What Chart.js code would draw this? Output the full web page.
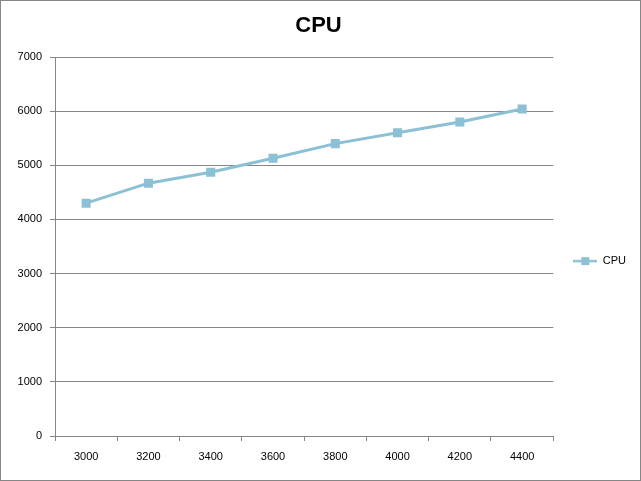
<!DOCTYPE html>
<html>
<head>
<meta charset="utf-8">
<script src="https://cdn.jsdelivr.net/npm/chart.js@4"></script>
<style>
    body { margin: 0; background: #fff; }
    #wrap { width: 639px; height: 479px; border: 1px solid #868686; position: relative; }
</style>
</head>
<body>
<div id="wrap"><canvas id="chart"></canvas></div>
<script>
const categories = ['3000', '3200', '3400', '3600', '3800', '4000', '4200', '4400'];
const cpuValues = [4300, 4670, 4870, 5130, 5400, 5600, 5800, 6040];
const seriesName = 'CPU';

const lineColor = '#8CC0D4';
const gridColor = '#868686';
const font = "'Liberation Sans', Arial, sans-serif";

// legend symbol: short line with a square in the middle
function legendSymbol() {
    const c = document.createElement('canvas');
    c.width = 24;
    c.height = 10;
    const g = c.getContext('2d');
    g.strokeStyle = lineColor;
    g.lineWidth = 2.5;
    g.beginPath();
    g.moveTo(0, 5);
    g.lineTo(24, 5);
    g.stroke();
    g.fillStyle = lineColor;
    g.fillRect(8, 1, 8, 8);
    return c;
}

const ctx = document.getElementById('chart').getContext('2d');
new Chart(ctx, {
    type: 'line',
    data: {
        labels: categories,
        datasets: [{
            label: seriesName,
            data: cpuValues,
            borderColor: lineColor,
            backgroundColor: lineColor,
            borderWidth: 3,
            pointStyle: 'rect',
            pointRadius: 6.4,
            pointBorderWidth: 0,
            pointHoverRadius: 6.4,
            tension: 0,
            fill: false
        }]
    },
    options: {
        responsive: true,
        maintainAspectRatio: false,
        animation: false,
        layout: { padding: { left: 0, right: 4, top: 0, bottom: 16 } },
        plugins: {
            title: {
                display: true,
                text: 'CPU',
                color: '#000',
                font: { family: font, size: 22, weight: 'bold', lineHeight: 1.2 },
                padding: { top: 12, bottom: 17.6 }
            },
            legend: {
                display: true,
                position: 'right',
                // empty title only pushes the entry down to sit where the original has it
                title: {
                    display: true,
                    text: '',
                    font: { family: font, size: 11 },
                    padding: { top: 22, bottom: 22 }
                },
                labels: {
                    color: '#000',
                    font: { family: font, size: 11 },
                    usePointStyle: true,
                    pointStyleWidth: 24,
                    padding: 20,
                    generateLabels: function (chart) {
                        return [{
                            text: seriesName,
                            pointStyle: legendSymbol(),
                            fillStyle: lineColor,
                            strokeStyle: lineColor,
                            lineWidth: 0,
                            datasetIndex: 0,
                            fontColor: '#000'
                        }];
                    }
                }
            },
            tooltip: { enabled: false }
        },
        scales: {
            x: {
                offset: true,
                afterFit: function (scale) { scale.height = 28; },
                grid: {
                    offset: true,
                    drawOnChartArea: false,
                    color: gridColor,
                    tickLength: 5
                },
                border: { color: gridColor },
                ticks: {
                    color: '#000',
                    font: { family: font, size: 11 },
                    padding: 9,
                    maxRotation: 0
                }
            },
            y: {
                min: 0,
                max: 7000,
                afterFit: function (scale) { scale.width = 54; },
                grid: {
                    color: gridColor,
                    tickLength: 5
                },
                border: { color: gridColor },
                ticks: {
                    stepSize: 1000,
                    color: '#000',
                    font: { family: font, size: 11 },
                    padding: 8,
                    callback: function (value) { return String(value); }
                }
            }
        }
    }
});
</script>
</body>
</html>
